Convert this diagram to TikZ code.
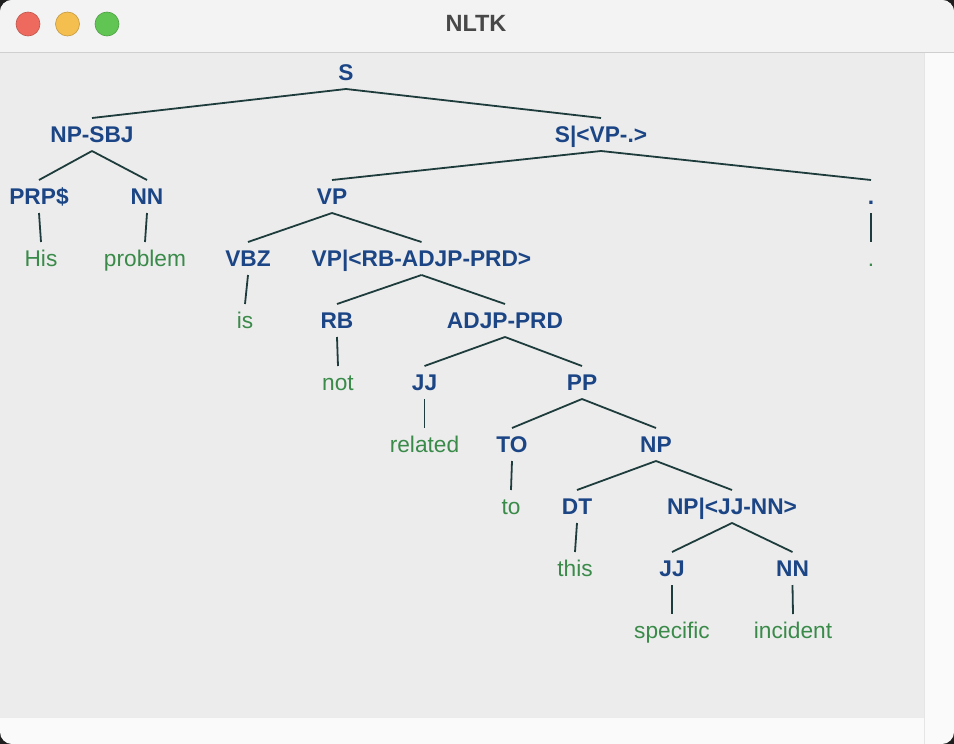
\documentclass[tikz,border=0pt]{standalone}
\usepackage{fontspec}
\setmainfont{Liberation Sans}
\definecolor{lblue}{HTML}{1B4585}
\definecolor{lgreen}{HTML}{3A8A4A}
\definecolor{edgec}{HTML}{1E3C3C}
\definecolor{canvasbg}{HTML}{ECECEC}
\definecolor{titlebg}{HTML}{F3F3F3}
\definecolor{framebg}{HTML}{FAFAFA}
\definecolor{sepgray}{HTML}{CFCFCF}
\definecolor{titlegray}{HTML}{484848}
\definecolor{tlred}{HTML}{EE6A5F}
\definecolor{tlyellow}{HTML}{F5BF4F}
\definecolor{tlgreen}{HTML}{61C554}
\begin{document}
\begin{tikzpicture}[x=1pt,y=-1pt,
  lab/.style={anchor=base,inner sep=0pt,text=lblue,font=\fontsize{22.7}{27}\selectfont\bfseries},
  leaf/.style={anchor=base,inner sep=0pt,text=lgreen,font=\fontsize{22.7}{27}\selectfont},
  br/.style={draw=edgec,line width=1.8pt},
  light/.style={line width=0.6pt}]
\useasboundingbox (0,0) rectangle (954,744);
% window frame
\fill[black!88] (0,0) rectangle (954,744);
\begin{scope}
\clip[rounded corners=12pt] (0,0) rectangle (954,744);
\fill[framebg] (0,0) rectangle (954,744);
\fill[titlebg] (0,0) rectangle (954,52);
\fill[canvasbg] (0,53) rectangle (924,717);
\end{scope}
\draw[sepgray,line width=1pt] (0,52.5) -- (954,52.5);
\draw[black!10,line width=0.8pt] (924.5,53) -- (924.5,744);
\draw[black!8,line width=0.8pt] (0,717.5) -- (924,717.5);
% traffic lights
\filldraw[light,fill=tlred,draw=tlred!80!black] (28,24) circle[radius=12pt];
\filldraw[light,fill=tlyellow,draw=tlyellow!80!black] (67.5,24) circle[radius=12pt];
\filldraw[light,fill=tlgreen,draw=tlgreen!80!black] (107,24) circle[radius=12pt];
\node[inner sep=0pt,text=titlegray,font=\fontsize{23.5}{28}\selectfont\bfseries] (title) at (476,23) {NLTK};
% tree labels (baselines)
\node[lab] (s) at (346,80) {S};
\node[lab] (npsbj) at (92,142) {NP-SBJ};
\node[lab] (svp) at (601,142) {S|<VP-.>};
\node[lab] (prp) at (39,204) {PRP\$};
\node[lab] (nna) at (147,204) {NN};
\node[lab] (vp) at (332,204) {VP};
\node[lab] (dotp) at (871,204) {.};
\node[leaf] (his) at (41,266) {His};
\node[leaf] (problem) at (145,266) {problem};
\node[lab] (vbz) at (248,266) {VBZ};
\node[lab] (vpi) at (421.5,266) {VP|<RB-ADJP-PRD>};
\node[leaf] (dotl) at (871,266) {.};
\node[leaf] (isw) at (245,328) {is};
\node[lab] (rb) at (337,328) {RB};
\node[lab] (adjp) at (505,328) {ADJP-PRD};
\node[leaf] (notw) at (338,390) {not};
\node[lab] (jja) at (424.5,390) {JJ};
\node[lab] (pp) at (582,390) {PP};
\node[leaf] (related) at (424.5,452) {related};
\node[lab] (tot) at (512,452) {TO};
\node[lab] (np) at (656,452) {NP};
\node[leaf] (tow) at (511,514) {to};
\node[lab] (dt) at (577,514) {DT};
\node[lab] (npi) at (732,514) {NP|<JJ-NN>};
\node[leaf] (this) at (575,576) {this};
\node[lab] (jjb) at (672,576) {JJ};
\node[lab] (nnb) at (792.5,576) {NN};
\node[leaf] (specific) at (672,638) {specific};
\node[leaf] (incident) at (793,638) {incident};
% branches
\foreach \p/\c in {s/npsbj, s/svp, npsbj/prp, npsbj/nna, prp/his, nna/problem,
  svp/vp, svp/dotp, dotp/dotl, vp/vbz, vp/vpi, vbz/isw, vpi/rb, vpi/adjp,
  rb/notw, adjp/jja, adjp/pp, jja/related, pp/tot, pp/np, tot/tow, np/dt, np/npi,
  dt/this, npi/jjb, npi/nnb, jjb/specific, nnb/incident}
  \draw[br] ([yshift=-9pt]\p.base) -- ([yshift=24pt]\c.base);
\end{tikzpicture}
\end{document}
